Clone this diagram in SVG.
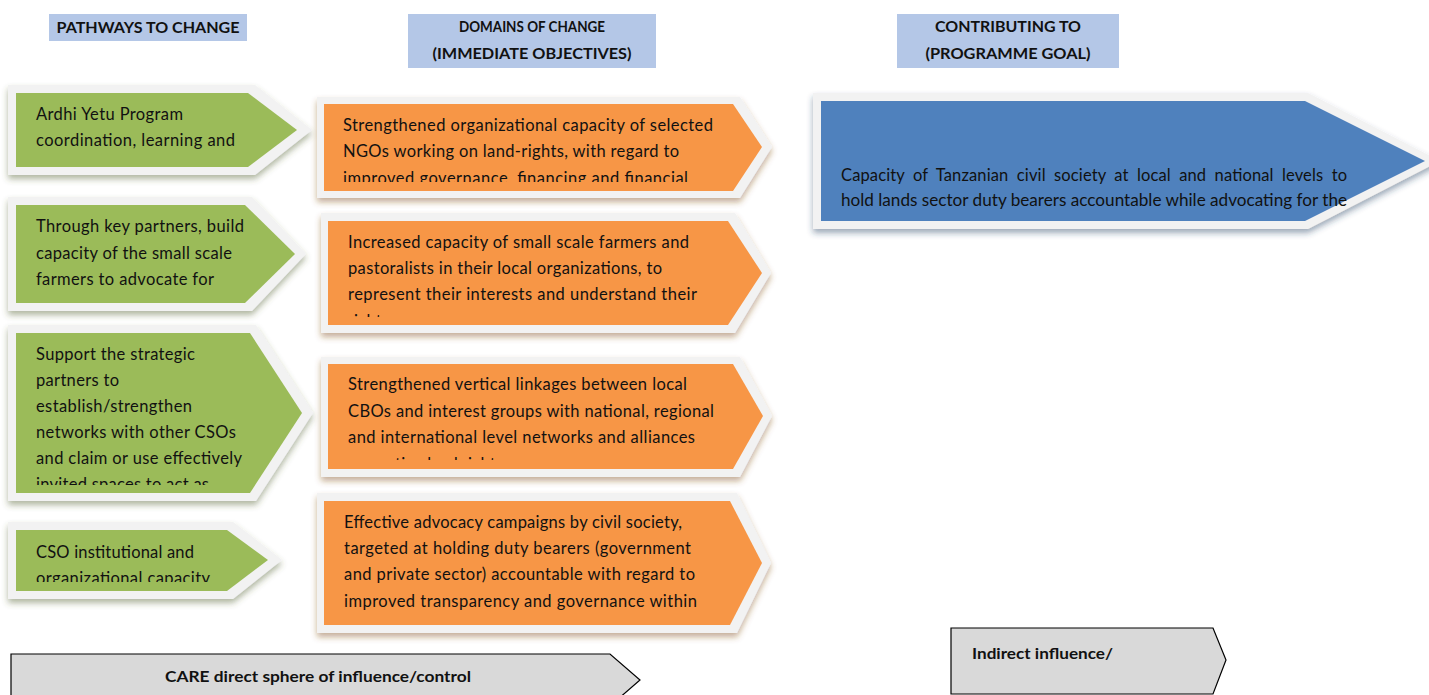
<svg xmlns="http://www.w3.org/2000/svg" width="1429" height="695" viewBox="0 0 1429 695">
<style>
.hdr{fill:#B4C7E7}
.ht{font-family:Lato,"Open Sans","Liberation Sans",sans-serif;font-weight:bold;font-size:16px;fill:#111;text-anchor:middle}
.frame{fill:#F2F2F2}
.g{fill:#9BBB59}
.o{fill:#F79646}
.b{fill:#4F81BD}
.t{font-family:Lato,"Open Sans","Liberation Sans",sans-serif;font-size:16.5px;fill:#111}
.gray{fill:#D9D9D9;stroke:#000;stroke-width:1.2}
.bt{font-family:Lato,"Open Sans","Liberation Sans",sans-serif;font-weight:bold;font-size:15.5px;fill:#111}
</style>
<defs>
<filter id="shG" x="-10%" y="-15%" width="125%" height="145%"><feDropShadow dx="0" dy="4" stdDeviation="3" flood-color="#4e5d2c" flood-opacity="0.45"/></filter>
<filter id="shO" x="-10%" y="-15%" width="125%" height="145%"><feDropShadow dx="0" dy="4" stdDeviation="3" flood-color="#7f4a1b" flood-opacity="0.45"/></filter>
<filter id="shB" x="-10%" y="-15%" width="125%" height="145%"><feDropShadow dx="0" dy="4" stdDeviation="3" flood-color="#243f60" flood-opacity="0.45"/></filter>
<clipPath id="cG3"><rect x="0" y="330" width="320" height="155"/></clipPath>
<clipPath id="cG4"><rect x="0" y="528" width="320" height="54"/></clipPath>
<clipPath id="cO1"><rect x="320" y="100" width="460" height="82"/></clipPath>
<clipPath id="cO2"><rect x="320" y="218" width="460" height="99"/></clipPath>
<clipPath id="cO3"><rect x="320" y="360" width="460" height="100"/></clipPath>
</defs>

<g id="header-pathways">
<rect class="hdr" x="49" y="14" width="198" height="27"/>
<text class="ht" x="148" y="33" textLength="183" lengthAdjust="spacingAndGlyphs">PATHWAYS TO CHANGE</text>
</g>
<g id="header-domains">
<rect class="hdr" x="408" y="14" width="248" height="54"/>
<text class="ht" x="532" y="32" textLength="146" lengthAdjust="spacingAndGlyphs">DOMAINS OF CHANGE</text>
<text class="ht" x="532" y="59" textLength="199" lengthAdjust="spacingAndGlyphs">(IMMEDIATE OBJECTIVES)</text>
</g>
<g id="header-contributing">
<rect class="hdr" x="897" y="14" width="222" height="54"/>
<text class="ht" x="1008" y="32" textLength="146" lengthAdjust="spacingAndGlyphs">CONTRIBUTING TO</text>
<text class="ht" x="1008" y="59" textLength="165" lengthAdjust="spacingAndGlyphs">(PROGRAMME GOAL)</text>
</g>

<g id="pathway-1">
<polygon class="frame" filter="url(#shG)" points="8,85 255,85 312,130 255,175 8,175"/>
<polygon class="g" points="16,93 248,93 297,130 248,167 16,167"/>
<text class="t" x="36" y="120" textLength="147">Ardhi Yetu Program</text>
<text class="t" x="36" y="146" textLength="199">coordination, learning and</text>
</g>
<g id="pathway-2">
<polygon class="frame" filter="url(#shG)" points="8,197 252,197 306,254 252,311 8,311"/>
<polygon class="g" points="16,205 245,205 295,254 245,303 16,303"/>
<text class="t" x="36" y="232" textLength="208">Through key partners, build</text>
<text class="t" x="36" y="259" textLength="196">capacity of the small scale</text>
<text class="t" x="36" y="285" textLength="178">farmers to advocate for</text>
</g>
<g id="pathway-3">
<polygon class="frame" filter="url(#shG)" points="8,325 256,325 313,413 256,501 8,501"/>
<polygon class="g" points="16,333 250,333 302,413 250,493 16,493"/>
<g clip-path="url(#cG3)">
<text class="t" x="36" y="360" textLength="159">Support the strategic</text>
<text class="t" x="36" y="386" textLength="83">partners to</text>
<text class="t" x="36" y="412" textLength="156">establish/strengthen</text>
<text class="t" x="36" y="438" textLength="200">networks with other CSOs</text>
<text class="t" x="36" y="464" textLength="206">and claim or use effectively</text>
<text class="t" x="36" y="490" textLength="173">invited spaces to act as</text>
</g>
</g>
<g id="pathway-4">
<polygon class="frame" filter="url(#shG)" points="8,522 233,522 282,560 233,599 8,599"/>
<polygon class="g" points="16,530 227,530 268,560 227,591 16,591"/>
<g clip-path="url(#cG4)">
<text class="t" x="36" y="558" textLength="158">CSO institutional and</text>
<text class="t" x="36" y="584" textLength="174">organizational capacity</text>
</g>
</g>

<g id="domain-1">
<polygon class="frame" filter="url(#shO)" points="317,97 740,97 772,147 740,198 317,198"/>
<polygon class="o" points="324,104 733,104 762,147 733,191 324,191"/>
<g clip-path="url(#cO1)">
<text class="t" x="343" y="131" textLength="370">Strengthened organizational capacity of selected</text>
<text class="t" x="343" y="157" textLength="336">NGOs working on land-rights, with regard to</text>
<text class="t" x="343" y="184" textLength="345">improved governance, financing and financial</text>
</g>
</g>
<g id="domain-2">
<polygon class="frame" filter="url(#shO)" points="321,213 735,213 771,273 735,333 321,333"/>
<polygon class="o" points="328,221 728,221 762,273 728,325 328,325"/>
<g clip-path="url(#cO2)">
<text class="t" x="348" y="248" textLength="341">Increased capacity of small scale farmers and</text>
<text class="t" x="348" y="274" textLength="314">pastoralists in their local organizations, to</text>
<text class="t" x="348" y="300" textLength="349">represent their interests and understand their</text>
<text class="t" x="348" y="327">rights</text>
</g>
</g>
<g id="domain-3">
<polygon class="frame" filter="url(#shO)" points="321,357 740,357 772,416 740,477 321,477"/>
<polygon class="o" points="328,364 733,364 763,416 733,469 328,469"/>
<g clip-path="url(#cO3)">
<text class="t" x="348" y="390" textLength="339">Strengthened vertical linkages between local</text>
<text class="t" x="348" y="417" textLength="366">CBOs and interest groups with national, regional</text>
<text class="t" x="348" y="443" textLength="347">and international level networks and alliances</text>
<text class="t" x="348" y="470">promoting land rights</text>
</g>
</g>
<g id="domain-4">
<polygon class="frame" filter="url(#shO)" points="317,493 737,493 771,563 737,633 317,633"/>
<polygon class="o" points="324,501 730,501 762,563 730,625 324,625"/>
<text class="t" x="344" y="528" textLength="338">Effective advocacy campaigns by civil society,</text>
<text class="t" x="344" y="554" textLength="347">targeted at holding duty bearers (government</text>
<text class="t" x="344" y="580" textLength="351">and private sector) accountable with regard to</text>
<text class="t" x="344" y="607" textLength="353">improved transparency and governance within</text>
</g>

<g id="programme-goal">
<polygon class="frame" filter="url(#shB)" points="813,93 1308,93 1440,161 1308,229 813,229"/>
<polygon class="b" points="821,101 1305,101 1425,161 1305,221 821,221"/>
<text class="t" x="841" y="181" textLength="506" lengthAdjust="spacing" word-spacing="4">Capacity of Tanzanian civil society at local and national levels to</text>
<text class="t" x="841" y="206" textLength="506" lengthAdjust="spacingAndGlyphs">hold lands sector duty bearers accountable while advocating for the</text>
</g>

<g id="sphere-direct">
<polygon class="gray" points="11,654 610,654 640,680 610,706 11,706"/>
<text class="bt" x="318" y="682" text-anchor="middle" textLength="306" lengthAdjust="spacingAndGlyphs">CARE direct sphere of influence/control</text>
</g>
<g id="sphere-indirect">
<polygon class="gray" points="951,628 1213,628 1226,660 1213,694 951,694"/>
<text class="bt" x="972" y="659" textLength="141" lengthAdjust="spacingAndGlyphs">Indirect influence/</text>
</g>

<g id="connectors"/>
</svg>
